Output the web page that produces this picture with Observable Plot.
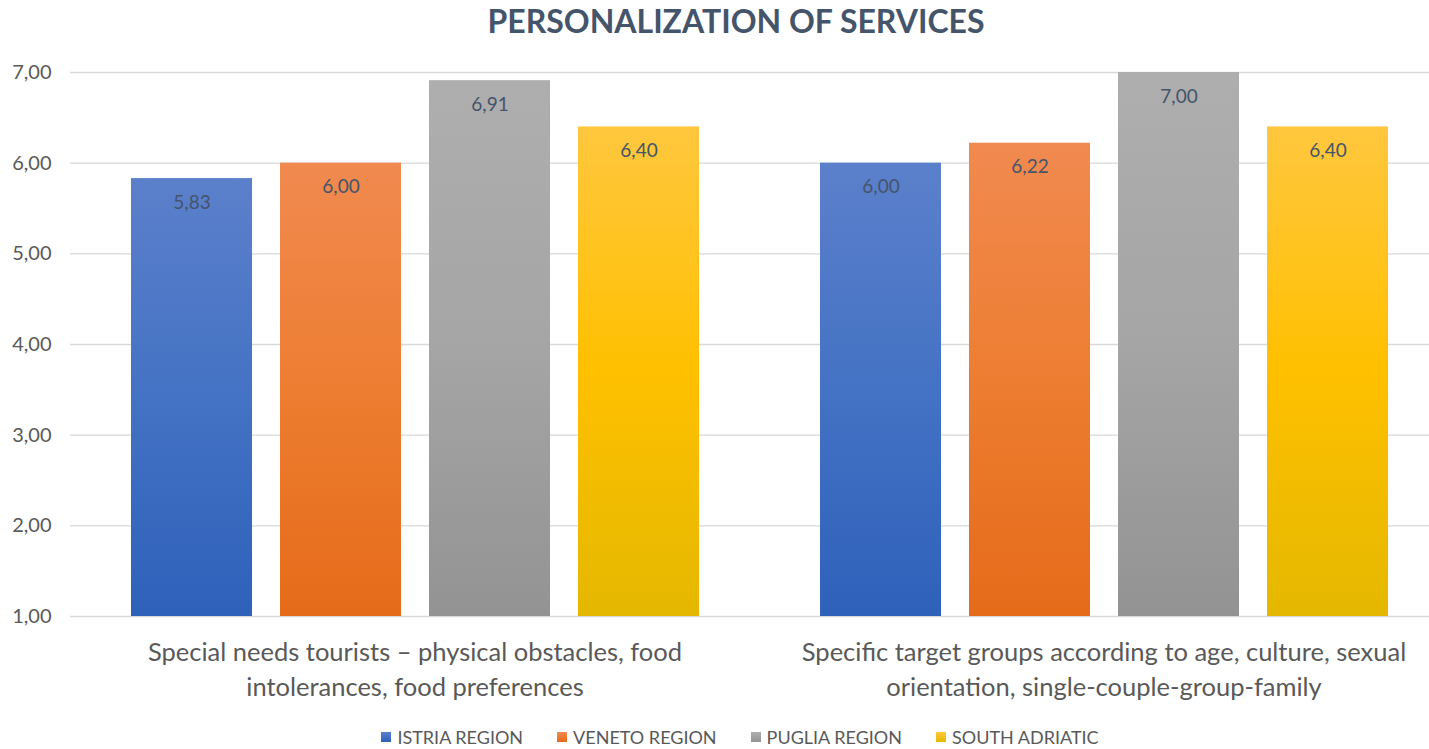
<!DOCTYPE html>
<html>
<head>
<meta charset="utf-8">
<script src="https://cdn.jsdelivr.net/npm/d3@7"></script>
<script src="https://cdn.jsdelivr.net/npm/@observablehq/plot@0.6"></script>
<style>
  html, body { margin: 0; padding: 0; background: #fff; width: 1429px; height: 749px; overflow: hidden; font-family: Lato, "Open Sans", sans-serif; }
  #title { height: 44px; line-height: 42px; text-align: center; padding-left: 43px; box-sizing: border-box; width: 1429px;
           font-size: 32px; font-weight: bold; color: #44546A; }
  #chart svg { display: block; overflow: hidden; }
  #legend { display: flex; justify-content: center; gap: 34px; padding-left: 51px; padding-top: 10px; box-sizing: border-box; height: 34px; align-items: center; font-size: 18px; color: #595959; }
  #legend .item { display: flex; align-items: center; gap: 6px; }
  #legend .sw { width: 10px; height: 10px; }
</style>
</head>
<body>
<svg width="0" height="0" style="position:absolute">
  <defs id="grads"></defs>
</svg>
<div id="title">PERSONALIZATION OF SERVICES</div>
<div id="chart"></div>
<div id="legend"></div>
<script>
// ---- data ----
const categories = [
  "Special needs tourists – physical obstacles, food\nintolerances, food preferences",
  "Specific target groups according to age, culture, sexual\norientation, single-couple-group-family"
];
const regions = ["ISTRIA REGION", "VENETO REGION", "PUGLIA REGION", "SOUTH ADRIATIC"];
const valuesSpecialNeeds = [5.83, 6.00, 6.91, 6.40];
const valuesTargetGroups = [6.00, 6.22, 7.00, 6.40];
const yTicks = [1, 2, 3, 4, 5, 6, 7];
const colorsTop = ["#5B80CB", "#F18A50", "#AEAEAE", "#FFC73E"];
const colorsMid = ["#4472C4", "#ED7D31", "#A5A5A5", "#FFC000"];
const colorsBottom = ["#2E61BA", "#E56B19", "#939393", "#E4B800"];

// ---- build table ----
const table = [];
[valuesSpecialNeeds, valuesTargetGroups].forEach((vals, ci) => {
  vals.forEach((v, ri) => table.push({category: categories[ci], region: regions[ri], value: v}));
});

// ---- gradients ----
const defs = document.getElementById("grads");
const gradIds = regions.map((r, i) => {
  const id = "g" + i;
  defs.innerHTML += `<linearGradient id="${id}" x1="0" y1="0" x2="0" y2="1">
    <stop offset="0" stop-color="${colorsTop[i]}"/>
    <stop offset="0.5" stop-color="${colorsMid[i]}"/>
    <stop offset="1" stop-color="${colorsBottom[i]}"/></linearGradient>`;
  return `url(#${id})`;
});

const fmt = d => d.toFixed(2).replace(".", ",");

const chart = Plot.plot({
  width: 1429,
  height: 671,
  marginTop: 28,
  marginBottom: 99,
  marginLeft: 70,
  marginRight: 0,
  style: {fontFamily: "Lato, 'Open Sans', sans-serif", color: "#595959", background: "#fff"},
  fx: {domain: categories, range: [70, 1448], padding: 0, axis: null},
  x: {domain: regions, paddingInner: 0.19, paddingOuter: 0.4, align: 0.5, axis: null},
  y: {domain: [1, 7], axis: null},
  color: {domain: regions, range: gradIds},
  marks: [
    Plot.ruleY(yTicks, {y: d => d, stroke: "#D9D9D9", strokeWidth: 1.3}),
    Plot.barY(table, {fx: "category", x: "region", y1: 1, y2: "value", fill: "region"}),
    Plot.text(table, {fx: "category", x: "region", y: "value", text: d => fmt(d.value), dy: 24,
                      fill: "#44546A", fontSize: 19}),
    Plot.text(categories, {fx: d => d, text: d => d, frameAnchor: "bottom", lineAnchor: "top", dy: 20,
                           lineHeight: 1.37, fontSize: 25.5, fill: "#595959"}),
    Plot.axisY(yTicks, {anchor: "left", tickSize: 0, tickPadding: 19, fontSize: 20, tickFormat: fmt,
                        label: null, facetAnchor: "left", fill: "#595959"})
  ]
});
document.getElementById("chart").appendChild(chart);

// ---- legend ----
const legend = document.getElementById("legend");
regions.forEach((r, i) => {
  const item = document.createElement("div");
  item.className = "item";
  const sw = document.createElement("div");
  sw.className = "sw";
  sw.style.background = `linear-gradient(${colorsTop[i]}, ${colorsBottom[i]})`;
  const t = document.createElement("span");
  t.textContent = r;
  item.appendChild(sw); item.appendChild(t);
  legend.appendChild(item);
});
</script>
</body>
</html>
